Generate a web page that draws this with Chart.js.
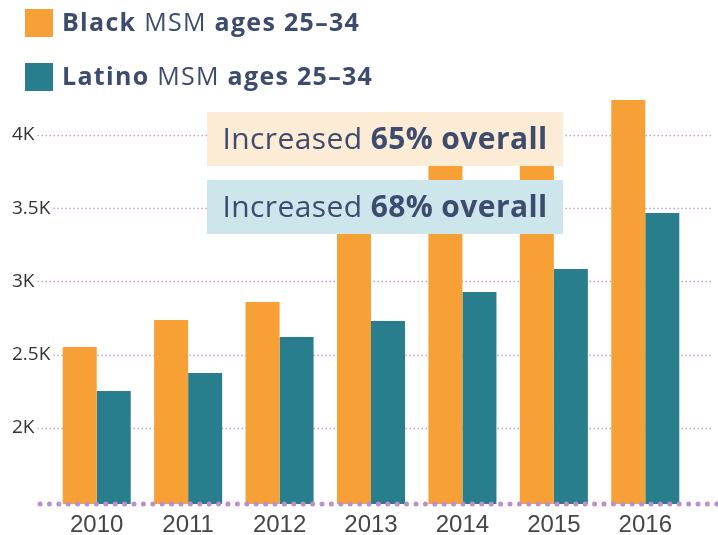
<!DOCTYPE html>
<html>
<head>
<meta charset="utf-8">
<script src="https://cdn.jsdelivr.net/npm/chart.js@4.4.1/dist/chart.umd.min.js"></script>
<style>
    html, body { margin: 0; padding: 0; background: #ffffff; }
    #wrap { width: 718px; height: 535px; }
</style>
</head>
<body>
<div id="wrap"><canvas id="chart" width="718" height="535"></canvas></div>
<script>
// ========================================
// Data
// ========================================
const years = ['2010', '2011', '2012', '2013', '2014', '2015', '2016'];
const blackMsm = [2553, 2737, 2860, 3550, 3950, 4000, 4239];
const latinoMsm = [2253, 2375, 2621, 2730, 2928, 3085, 3468];
const yTicks = [2000, 2500, 3000, 3500, 4000];
const yTickLabels = ['2K', '2.5K', '3K', '3.5K', '4K'];

// legend parts: [text, bold]
const legendBlack = [['Black', true], [' MSM ', false], ['ages 25\u201334', true]];
const legendLatino = [['Latino', true], [' MSM ', false], ['ages 25\u201334', true]];
const noteBlack = [['Increased ', false], ['65% overall', true]];
const noteLatino = [['Increased ', false], ['68% overall', true]];

const ORANGE = '#f6a035';
const TEAL = '#287e8d';
const NAVY = '#3d4b6e';
const GRID = '#c99bd2';
const FONT = '"Open Sans", "Noto Sans", sans-serif';

// draw a line of mixed regular / bold text, returns width
function drawRich(ctx, parts, x, y, size, align, spacing) {
    ctx.letterSpacing = spacing || '0px';
    const widths = parts.map(([t, b]) => {
        ctx.font = `${b ? 700 : 400} ${size}px ${FONT}`;
        return ctx.measureText(t).width;
    });
    const total = widths.reduce((a, b) => a + b, 0);
    let cx = align === 'center' ? x - total / 2 : x;
    parts.forEach(([t, b], i) => {
        ctx.font = `${b ? 700 : 400} ${size}px ${FONT}`;
        ctx.fillText(t, cx, y);
        cx += widths[i];
    });
    ctx.letterSpacing = '0px';
    return total;
}

const decorations = {
    id: 'decorations',
    beforeDatasetsDraw(chart) {
        const ctx = chart.ctx;
        const yScale = chart.scales.y;
        ctx.save();
        // dotted gridlines starting after each tick label
        ctx.font = `400 19px ${FONT}`;
        ctx.strokeStyle = GRID;
        ctx.lineWidth = 1.5;
        ctx.setLineDash([1.5, 2.5]);
        yScale.ticks.forEach((t, i) => {
            const py = Math.round(yScale.getPixelForValue(t.value)) + 0.5;
            const w = ctx.measureText(yTickLabels[i]).width;
            ctx.beginPath();
            ctx.moveTo(12 + w + 3, py);
            ctx.lineTo(712, py);
            ctx.stroke();
        });
        ctx.restore();
    },
    afterDatasetsDraw(chart) {
        const ctx = chart.ctx;
        const area = chart.chartArea;
        ctx.save();

        // bottom baseline of big dots
        ctx.fillStyle = '#b98fcc';
        for (let x = 40; x < 718; x += 9.4) {
            ctx.beginPath();
            ctx.arc(x, area.bottom, 2.5, 0, Math.PI * 2);
            ctx.fill();
        }

        // annotation boxes
        ctx.fillStyle = '#fcebd5';
        ctx.fillRect(207, 112, 356, 54);
        ctx.fillStyle = '#cde6ec';
        ctx.fillRect(207, 180, 356, 54);
        ctx.fillStyle = NAVY;
        ctx.textBaseline = 'middle';
        drawRich(ctx, noteBlack, 385, 140, 30, 'center', '0.4px');
        drawRich(ctx, noteLatino, 385, 208, 30, 'center', '0.4px');

        // legend
        const ds = chart.data.datasets;
        [[legendBlack, 9], [legendLatino, 63]].forEach(([parts, top], i) => {
            ctx.fillStyle = ds[i].backgroundColor;
            ctx.fillRect(25, top, 28, 28);
            ctx.fillStyle = NAVY;
            drawRich(ctx, parts, 62, top + 15, 25, 'left', '1.3px');
        });
        ctx.restore();
    }
};

new Chart(document.getElementById('chart'), {
    type: 'bar',
    data: {
        labels: years,
        datasets: [
            { label: 'Black MSM ages 25\u201334', data: blackMsm, backgroundColor: ORANGE },
            { label: 'Latino MSM ages 25\u201334', data: latinoMsm, backgroundColor: TEAL }
        ]
    },
    options: {
        responsive: false,
        animation: false,
        layout: { padding: { top: 91, right: 27, left: 12, bottom: 0 } },
        datasets: {
            bar: { barPercentage: 1, categoryPercentage: 0.744, borderWidth: 0 }
        },
        scales: {
            x: {
                grid: { display: false },
                border: { display: false },
                ticks: {
                    color: '#454545',
                    padding: -1,
                    font: { family: '"Liberation Sans", Arial, sans-serif', size: 24 }
                },
                afterFit(scale) { scale.height = 31; }
            },
            y: {
                min: 1481,
                max: 4300,
                grid: { display: false },
                border: { display: false },
                afterBuildTicks(scale) {
                    scale.ticks = yTicks.map(v => ({ value: v }));
                },
                ticks: {
                    color: '#333333',
                    crossAlign: 'far',
                    padding: 0,
                    font: { family: FONT, size: 19 },
                    callback: (v) => yTickLabels[yTicks.indexOf(v)]
                },
                afterFit(scale) { scale.width = 39; }
            }
        },
        plugins: {
            legend: { display: false },
            tooltip: { enabled: false }
        }
    },
    plugins: [decorations]
});
</script>
</body>
</html>
